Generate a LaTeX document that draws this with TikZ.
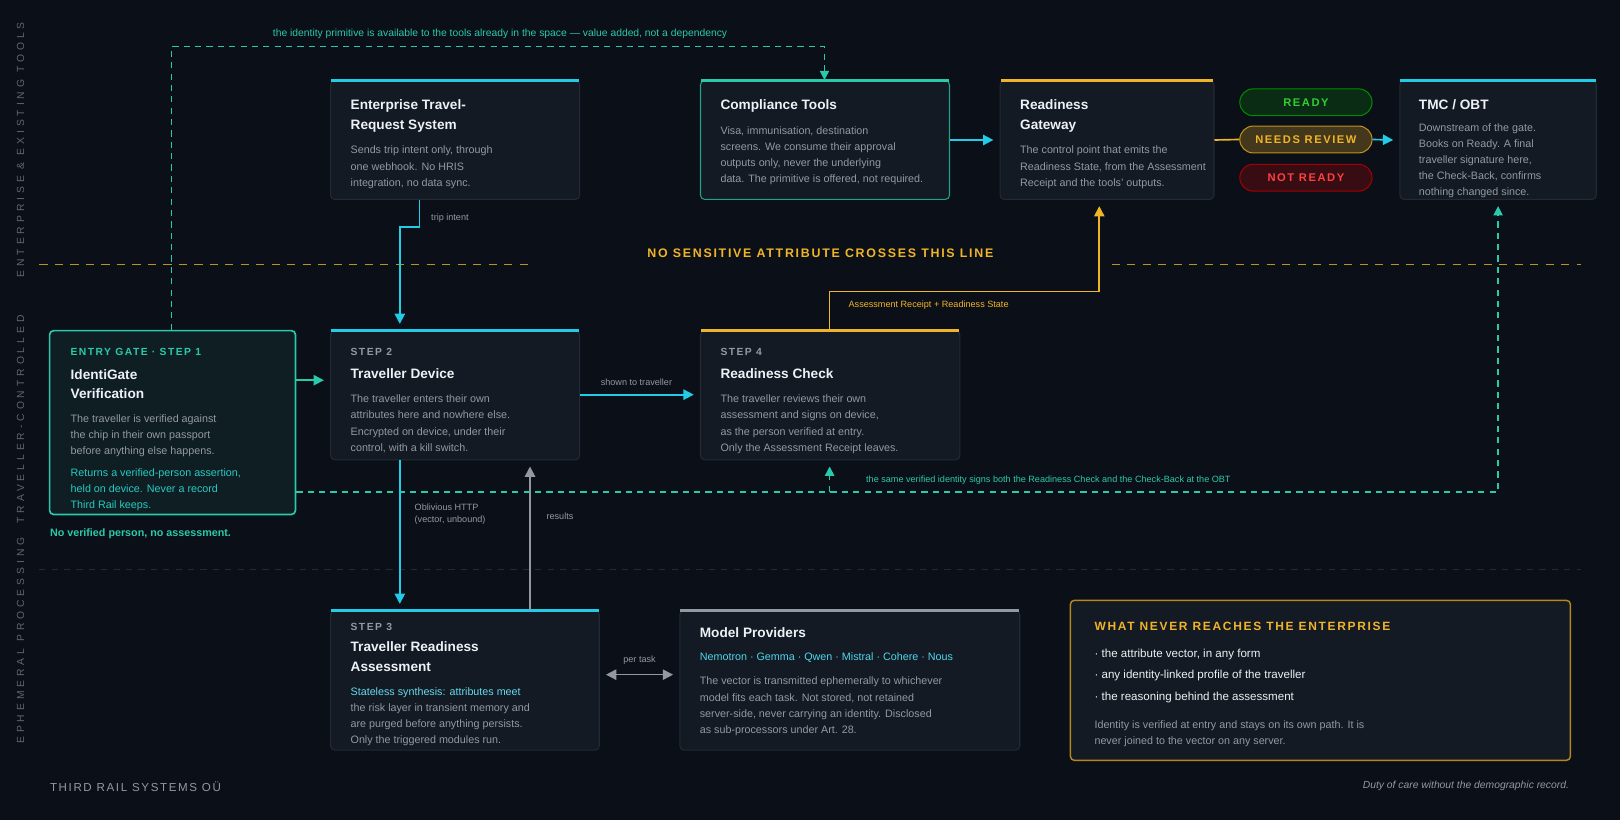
\documentclass[tikz,border=0pt]{standalone}
\usepackage{fontspec}
\setmainfont{Liberation Sans}
\usetikzlibrary{positioning,arrows.meta,calc}

\definecolor{bg}{HTML}{0B0F17}
\definecolor{cardbg}{HTML}{141A23}
\definecolor{cardline}{HTML}{232A35}
\definecolor{cyan}{HTML}{22CCE6}
\definecolor{teal}{HTML}{2BC9AC}
\definecolor{amber}{HTML}{F0B429}
\definecolor{muted}{HTML}{9299A3}
\definecolor{ink}{HTML}{EEF1F5}
\definecolor{lane}{HTML}{5F6670}

\newcommand\fsz[2]{\fontsize{#1}{#2}\selectfont}
\newcommand\spaced[1]{{\addfontfeatures{LetterSpace=14}#1}}
\newcommand\wide[1]{{\addfontfeatures{LetterSpace=38}#1}}

\tikzset{
  card/.style={draw=cardline, fill=cardbg, rounded corners=2pt, line width=0.5pt},
  txt/.style={anchor=north west, inner sep=0pt, align=left},
  title/.style={txt, text=ink, font=\bfseries\fsz{6.6}{9.5}},
  body/.style={txt, text=muted, font=\fsz{5.2}{7.8}},
  kicker/.style={txt, text=muted, font=\bfseries\fsz{5}{6}},
  small/.style={inner sep=0pt, text=muted, font=\fsz{4.4}{6}},
  pill/.style={draw, rounded corners=6.5pt, line width=0.5pt, minimum width=64pt, minimum height=13pt, inner sep=0pt, font=\bfseries\fsz{5.4}{6}},
  flow/.style={line width=0.8pt, -{Triangle[length=5pt,width=5pt]}},
  idline/.style={teal, line width=0.7pt, dash pattern=on 3pt off 2.5pt},
}

% card from corner to corner, with coloured top bar
\newcommand\card[6]{%
  \node[card, minimum width={(#4-#2)*0.5pt}, minimum height={(#5-#3)*0.5pt}, inner sep=0pt, #6]
    (#1) at ({(#2+#4)/2},{(#3+#5)/2}) {};}
\newcommand\topbar[2]{\draw[#2, line width=1.5pt] ([xshift=0.5pt]#1.north west) -- ([xshift=-0.5pt]#1.north east);}

\begin{document}
\begin{tikzpicture}[x=0.5pt, y=-0.5pt]
  \fill[bg] (0,0) rectangle (1568,794);
  \useasboundingbox (0,0) rectangle (1568,794);

  % lane labels
  \node[rotate=90, text=lane, font=\fsz{5}{6}] (laneA) at (20,145) {\wide{ENTERPRISE \& EXISTING TOOLS}};
  \node[rotate=90, text=lane, font=\fsz{5}{6}] (laneB) at (20,406) {\wide{TRAVELLER-CONTROLLED}};
  \node[rotate=90, text=lane, font=\fsz{5}{6}] (laneC) at (20,620) {\wide{EPHEMERAL PROCESSING}};

  % lane dividers
  \coordinate (divA1) at (38,256); \coordinate (divA2) at (513,256);
  \coordinate (divA3) at (1076,256); \coordinate (divA4) at (1530,256);
  \draw[amber!80!black, line width=0.7pt, dash pattern=on 4pt off 3.5pt] (divA1) -- (divA2) (divA3) -- (divA4);
  \node[text=amber, font=\bfseries\fsz{6}{7}] (boundary) at (794,245) {\spaced{NO SENSITIVE ATTRIBUTE CROSSES THIS LINE}};
  \coordinate (divB1) at (38,551); \coordinate (divB2) at (1530,551);
  \draw[cardline, line width=0.6pt, dash pattern=on 3pt off 3pt] (divB1) -- (divB2);

  % Layer 1: enterprise cards
  \card{etrs}{320}{78}{561}{193}{}
  \topbar{etrs}{cyan}
  \node[title] (etrsT) at (339,96) {Enterprise Travel-\\Request System};
  \node[body] (etrsB) at (339,141) {Sends trip intent only, through\\one webhook. No HRIS\\integration, no data sync.};

  \card{comp}{678}{78}{919}{193}{draw=teal!80!black}
  \topbar{comp}{teal}
  \node[title] (compT) at (697,96) {Compliance Tools};
  \node[body] (compB) at (697,122) {Visa, immunisation, destination\\screens. We consume their approval\\outputs only, never the underlying\\data. The primitive is offered, not required.};

  \card{gate}{968}{78}{1175}{193}{}
  \topbar{gate}{amber}
  \node[title] (gateT) at (987,96) {Readiness\\Gateway};
  \node[body] (gateB) at (987,141) {The control point that emits the\\Readiness State, from the Assessment\\Receipt and the tools' outputs.};

  \card{tmc}{1355}{78}{1545}{193}{}
  \topbar{tmc}{cyan}
  \node[title] (tmcT) at (1373,96) {TMC / OBT};
  \node[body] (tmcB) at (1373,119) {Downstream of the gate.\\Books on Ready. A final\\traveller signature here,\\the Check-Back, confirms\\nothing changed since.};

  % states
  \node[pill, draw=green!55!black, fill=green!12!bg, text=green!60!gray] (ready) at (1264,99) {\spaced{READY}};
  \node[pill, draw=amber!80!black, fill=amber!25!bg, text=amber] (review) at (1264,135) {\spaced{NEEDS REVIEW}};
  \node[pill, draw=red!65!black, fill=red!18!bg, text=red!75!white] (notready) at (1264,172) {\spaced{NOT READY}};

  % Layer 2: traveller cards
  \card{entry}{48}{320}{286}{498}{draw=teal, fill=teal!8!bg, line width=0.8pt}
  \node[kicker, text=teal] (entryK) at (68,337) {\spaced{ENTRY GATE · STEP 1}};
  \node[title] (entryT) at (68,357) {IdentiGate\\Verification};
  \node[body] (entryB) at (68,401) {The traveller is verified against\\the chip in their own passport\\before anything else happens.};
  \node[body, text=teal!60!cyan] (entryC) at (68,453) {Returns a verified-person assertion,\\held on device. Never a record\\Third Rail keeps.};
  \node[txt, text=teal, font=\bfseries\fsz{5.2}{6}] (entryNote) at (48,511) {No verified person, no assessment.};

  \card{device}{320}{320}{561}{445}{}
  \topbar{device}{cyan}
  \node[kicker] (deviceK) at (339,337) {\spaced{STEP 2}};
  \node[title] (deviceT) at (339,356) {Traveller Device};
  \node[body] (deviceB) at (339,382) {The traveller enters their own\\attributes here and nowhere else.\\Encrypted on device, under their\\control, with a kill switch.};

  \card{check}{678}{320}{929}{445}{}
  \topbar{check}{amber}
  \node[kicker] (checkK) at (697,337) {\spaced{STEP 4}};
  \node[title] (checkT) at (697,356) {Readiness Check};
  \node[body] (checkB) at (697,382) {The traveller reviews their own\\assessment and signs on device,\\as the person verified at entry.\\Only the Assessment Receipt leaves.};

  % Layer 3: ephemeral cards
  \card{assess}{320}{591}{580}{726}{}
  \topbar{assess}{cyan}
  \node[kicker] (assessK) at (339,603) {\spaced{STEP 3}};
  \node[title] (assessT) at (339,621) {Traveller Readiness\\Assessment};
  \node[body] (assessB) at (339,665) {\textcolor{cyan!70!white}{Stateless synthesis: attributes meet}\\the risk layer in transient memory and\\are purged before anything persists.\\Only the triggered modules run.};

  \card{models}{658}{591}{987}{726}{}
  \topbar{models}{muted}
  \node[title] (modelsT) at (677,607) {Model Providers};
  \node[body, text=cyan!80!white] (modelsL) at (677,631) {Nemotron · Gemma · Qwen · Mistral · Cohere · Nous};
  \node[body] (modelsB) at (677,655) {The vector is transmitted ephemerally to whichever\\model fits each task. Not stored, not retained\\server-side, never carrying an identity. Disclosed\\as sub-processors under Art. 28.};

  \card{never}{1036}{581}{1520}{736}{draw=amber!75!black, line width=0.7pt}
  \node[txt, text=amber, font=\bfseries\fsz{5.8}{7}] (neverH) at (1059,602) {\spaced{WHAT NEVER REACHES THE ENTERPRISE}};
  \node[txt, text=ink, font=\fsz{5.6}{10.3}] (neverL) at (1059,628) {· the attribute vector, in any form\\· any identity-linked profile of the traveller\\· the reasoning behind the assessment};
  \node[body] (neverB) at (1059,697) {Identity is verified at entry and stays on its own path. It is\\never joined to the vector on any server.};

  % footer
  \node[txt, text=muted, font=\fsz{5.6}{7}] (brand) at (48,756) {\spaced{THIRD RAIL SYSTEMS OÜ}};
  \node[anchor=north east, inner sep=0pt, text=muted, font=\itshape\fsz{5}{6}] (motto) at (1519,756) {Duty of care without the demographic record.};

  % Connections
  \draw[idline, -{Triangle[length=4.5pt,width=4.5pt]}] (entry.north -| 166,0) -- (166,45) -- (798,45) -- (comp.north -| 798,0);
  \node[small, text=teal, font=\fsz{5}{6}] (idnote) at (484,33) {the identity primitive is available to the tools already in the space — value added, not a dependency};

  \draw[flow, cyan] (etrs.south -| 406,0) -- (406,220) -- (387,220) -- ([yshift=3pt]device.north -| 387,0);
  \node[small, anchor=west] (tripL) at (417,211) {trip intent};

  \draw[flow, cyan] (comp.east) -- ([xshift=-3pt]gate.west);
  \draw[amber, line width=0.8pt] (gate.east) -- (review.west);
  \draw[flow, cyan] (review.east) -- ([xshift=-3pt]tmc.west);

  \draw[flow, teal] (entry.east |- 0,368) -- ([xshift=-3pt]device.west |- 0,368);
  \draw[flow, cyan] (device.east |- 0,382) -- ([xshift=-3pt]check.west |- 0,382);
  \node[small] (shownL) at (616,370) {shown to traveller};

  \draw[flow, amber] (check.north -| 803,0) -- (803,282) -- (1064,282) -- ([yshift=-3pt]gate.south -| 1064,0);
  \node[small, anchor=west, text=amber] (receiptL) at (821,295) {Assessment Receipt + Readiness State};

  \draw[idline, -{Triangle[length=4.5pt,width=4.5pt]}] (entry.east |- 0,476) -- (1450,476) -- ([yshift=-3pt]tmc.south -| 1450,0);
  \draw[idline, -{Triangle[length=4.5pt,width=4.5pt]}] (803,476) -- ([yshift=-3pt]check.south -| 803,0);
  \node[small, anchor=west, text=teal] (sameL) at (838,465) {the same verified identity signs both the Readiness Check and the Check-Back at the OBT};

  \draw[flow, cyan] (device.south -| 387,0) -- ([yshift=3pt]assess.north -| 387,0);
  \node[small, anchor=north west, align=left] (ohttpL) at (401,487) {Oblivious HTTP\\(vector, unbound)};
  \draw[flow, muted] (assess.north -| 513,0) -- ([yshift=-3pt]device.south -| 513,0);
  \node[small] (resultsL) at (542,500) {results};

  \draw[muted, line width=0.8pt, {Triangle[length=5pt,width=5pt]}-{Triangle[length=5pt,width=5pt]}] ([xshift=3pt]assess.east |- 0,653) -- ([xshift=-3pt]models.west |- 0,653);
  \node[small] (perL) at (619,639) {per task};
\end{tikzpicture}
\end{document}
